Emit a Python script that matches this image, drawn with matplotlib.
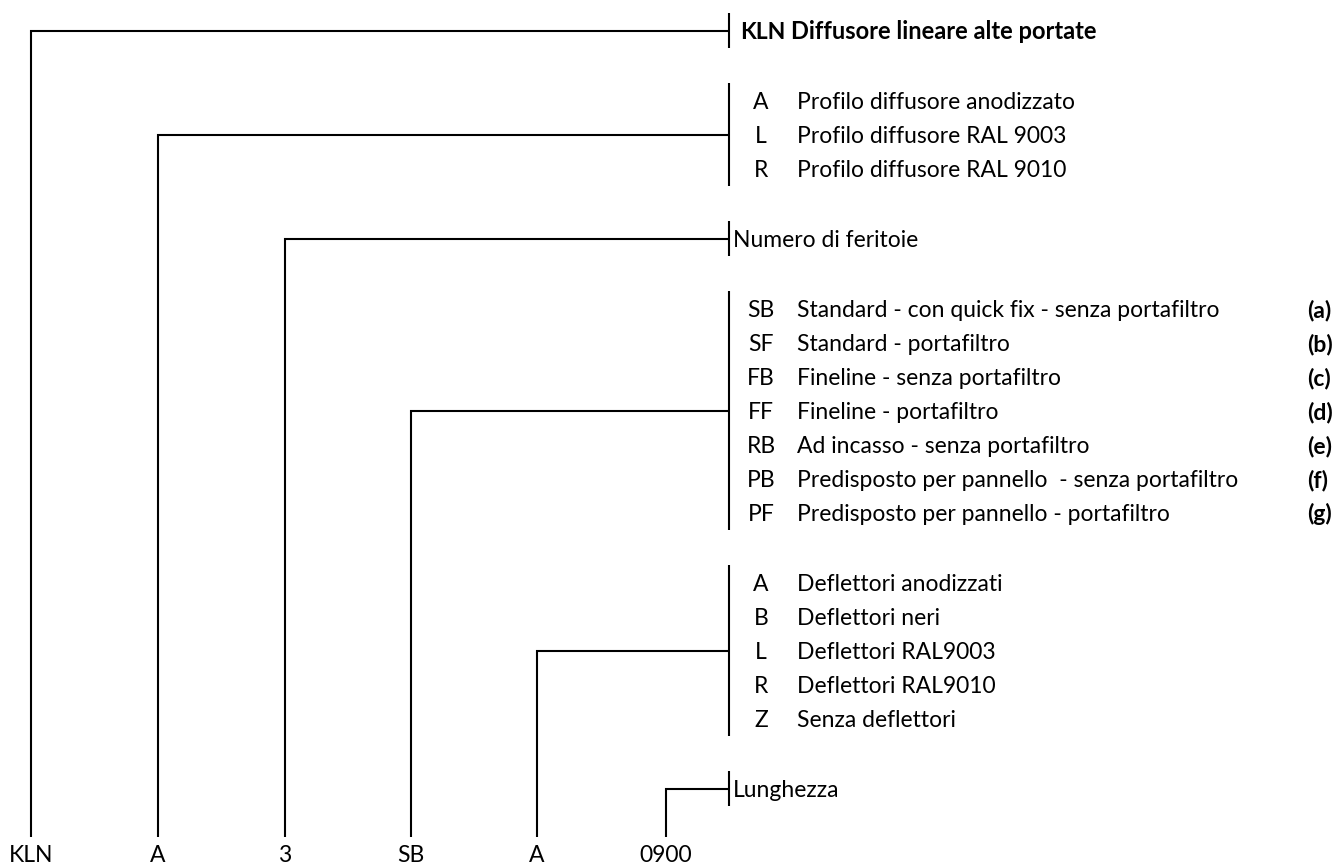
import matplotlib.pyplot as plt

plt.rcParams["font.family"] = ["Lato", "DejaVu Sans"]

# code parts shown at the bottom, left to right
part_codes = ["KLN", "A", "3", "SB", "A", "0900"]

# one block of options per part
header_codes = ["KLN"]
header_desc = ["Diffusore lineare alte portate"]

profile_codes = ["A", "L", "R"]
profile_desc = [
    "Profilo diffusore anodizzato",
    "Profilo diffusore RAL 9003",
    "Profilo diffusore RAL 9010",
]

slots_label = "Numero di feritoie"

version_codes = ["SB", "SF", "FB", "FF", "RB", "PB", "PF"]
version_desc = [
    "Standard - con quick fix - senza portafiltro",
    "Standard - portafiltro",
    "Fineline - senza portafiltro",
    "Fineline - portafiltro",
    "Ad incasso - senza portafiltro",
    "Predisposto per pannello  - senza portafiltro",
    "Predisposto per pannello - portafiltro",
]
version_notes = ["(a)", "(b)", "(c)", "(d)", "(e)", "(f)", "(g)"]

deflector_codes = ["A", "B", "L", "R", "Z"]
deflector_desc = [
    "Deflettori anodizzati",
    "Deflettori neri",
    "Deflettori RAL9003",
    "Deflettori RAL9010",
    "Senza deflettori",
]

length_label = "Lunghezza"

# layout in pixels
W, H = 1340, 865
ROW = 34
GAP = 70
TOP = 31
BRACKET_X = 729
CODE_X = 761
DESC_X = 797
NOTE_X = 1307
PART_X = [31, 158, 285, 411, 537, 666]
LINE_BOTTOM = 837
LABEL_BASE = 862
BASE_OFF = 8
LW = 1.5
FS = 16.5

blocks = [
    {"codes": header_codes, "desc": header_desc, "bold": True},
    {"codes": profile_codes, "desc": profile_desc},
    {"codes": None, "desc": [slots_label]},
    {"codes": version_codes, "desc": version_desc, "notes": version_notes},
    {"codes": deflector_codes, "desc": deflector_desc},
    {"codes": None, "desc": [length_label]},
]


def draw_block(ax, block, y0, part_x):
    n = len(block["desc"])
    ys = [y0 + i * ROW for i in range(n)]
    ax.plot([BRACKET_X, BRACKET_X], [ys[0] - 18, ys[-1] + 17], color="black", lw=LW,
            solid_capstyle="butt")
    y_link = ys[n // 2]
    ax.plot([part_x, part_x, BRACKET_X], [LINE_BOTTOM, y_link, y_link], color="black", lw=LW,
            solid_joinstyle="miter", solid_capstyle="butt")
    for i, y in enumerate(ys):
        yb = y + BASE_OFF
        if block["codes"] is None:
            ax.text(BRACKET_X + 4, yb, block["desc"][i], fontsize=FS, va="baseline", ha="left")
            continue
        if block.get("bold"):
            ax.text(BRACKET_X + 11, yb, block["codes"][i], fontsize=FS, fontweight="bold",
                    va="baseline", ha="left")
            ax.text(DESC_X - 6, yb, block["desc"][i], fontsize=FS + 0.5, fontweight="bold",
                    va="baseline", ha="left")
        else:
            ax.text(CODE_X, yb, block["codes"][i], fontsize=FS, va="baseline", ha="center")
            ax.text(DESC_X, yb, block["desc"][i], fontsize=FS, va="baseline", ha="left")
        if "notes" in block:
            ax.text(NOTE_X, yb, block["notes"][i], fontsize=FS, fontweight="bold",
                    va="baseline", ha="left")
    return ys[-1] + GAP


fig = plt.figure(figsize=(W / 100, H / 100), dpi=100)
ax = fig.add_axes([0, 0, 1, 1])
ax.set_xlim(0, W)
ax.set_ylim(H, 0)
ax.axis("off")

y = TOP
for block, px in zip(blocks, PART_X):
    y = draw_block(ax, block, y, px)

for code, px in zip(part_codes, PART_X):
    ax.text(px, LABEL_BASE, code, fontsize=FS, va="baseline", ha="center")

fig.savefig("out.png", dpi=100, facecolor="white")
plt.close(fig)
